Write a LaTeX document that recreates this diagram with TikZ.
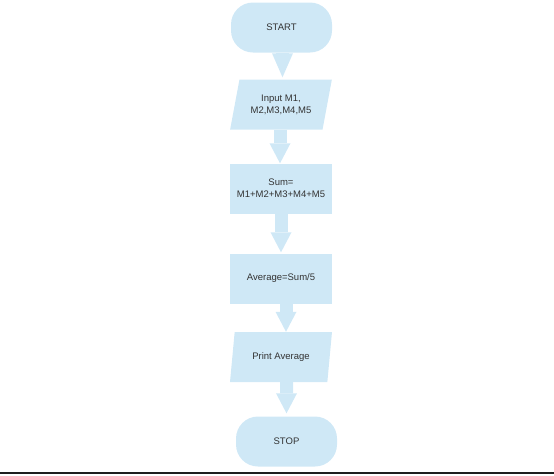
\documentclass[tikz,border=0pt]{standalone}
\usepackage{fontspec}
\setmainfont{Liberation Sans}
\usetikzlibrary{
    positioning,
    shapes.geometric,
    arrows.meta
}
\definecolor{AzulCaixa}{HTML}{CFE8F6}
\definecolor{CinzaTexto}{HTML}{333333}
\definecolor{PretoBorda}{HTML}{1E1E1E}

\begin{document}
\begin{tikzpicture}[
    x=1pt, y=-1pt,
    caixa/.style={
        fill=AzulCaixa,
        text=CinzaTexto,
        font=\fontsize{9.5}{12}\selectfont,
        align=center,
        inner sep=2pt
    },
    terminal/.style={
        caixa,
        rounded corners=22pt,
        minimum width=101pt,
        minimum height=50pt
    },
    processo/.style={
        caixa,
        minimum width=102pt,
        minimum height=50pt
    },
    dados/.style={
        caixa,
        trapezium,
        trapezium stretches=true,
        minimum width=102pt,
        minimum height=50pt
    },
    seta/.style={
        draw=AzulCaixa,
        line width=13pt,
        -{Triangle[length=20pt,width=21pt,line width=0pt]}
    }
]
    \useasboundingbox (0,0) rectangle (554,475);

    % caixas do fluxograma
    \node[terminal] (inicio) at (281.5,27.5) {START};
    \node[
        dados,
        trapezium left angle=73,
        trapezium right angle=107
    ] (entrada) at (281,104.5) {Input M1,\\M2,M3,M4,M5};
    \node[processo] (soma) at (281,188.5) {Sum=\\M1+M2+M3+M4+M5};
    \node[processo] (media) at (281,278.5) {Average=Sum/5};
    \node[
        dados,
        trapezium left angle=76.5,
        trapezium right angle=103.5
    ] (saida) at (281,357) {Print Average};
    \node[terminal] (fim) at (286.5,441.5) {STOP};

    % setas
    \draw[
        seta,
        shorten >=2pt,
        -{Triangle[length=24pt,width=21pt,line width=0pt]}
    ] ([xshift=1pt]inicio.south) -- ([xshift=1pt]inicio.south |- entrada.north);
    \draw[seta] ([xshift=-1pt]entrada.south) -- ([xshift=-1pt]entrada.south |- soma.north);
    \draw[seta, shorten >=1pt] (soma.south) -- (media.north);
    \draw[seta] ([xshift=5pt]media.south) -- ([xshift=5pt]media.south |- saida.north);
    \draw[seta, shorten >=3pt] ([xshift=5.5pt]saida.south) -- (fim.north);

    % linha de base
    \draw[PretoBorda, line width=2pt] (0,473) -- (554,473);
\end{tikzpicture}
\end{document}
